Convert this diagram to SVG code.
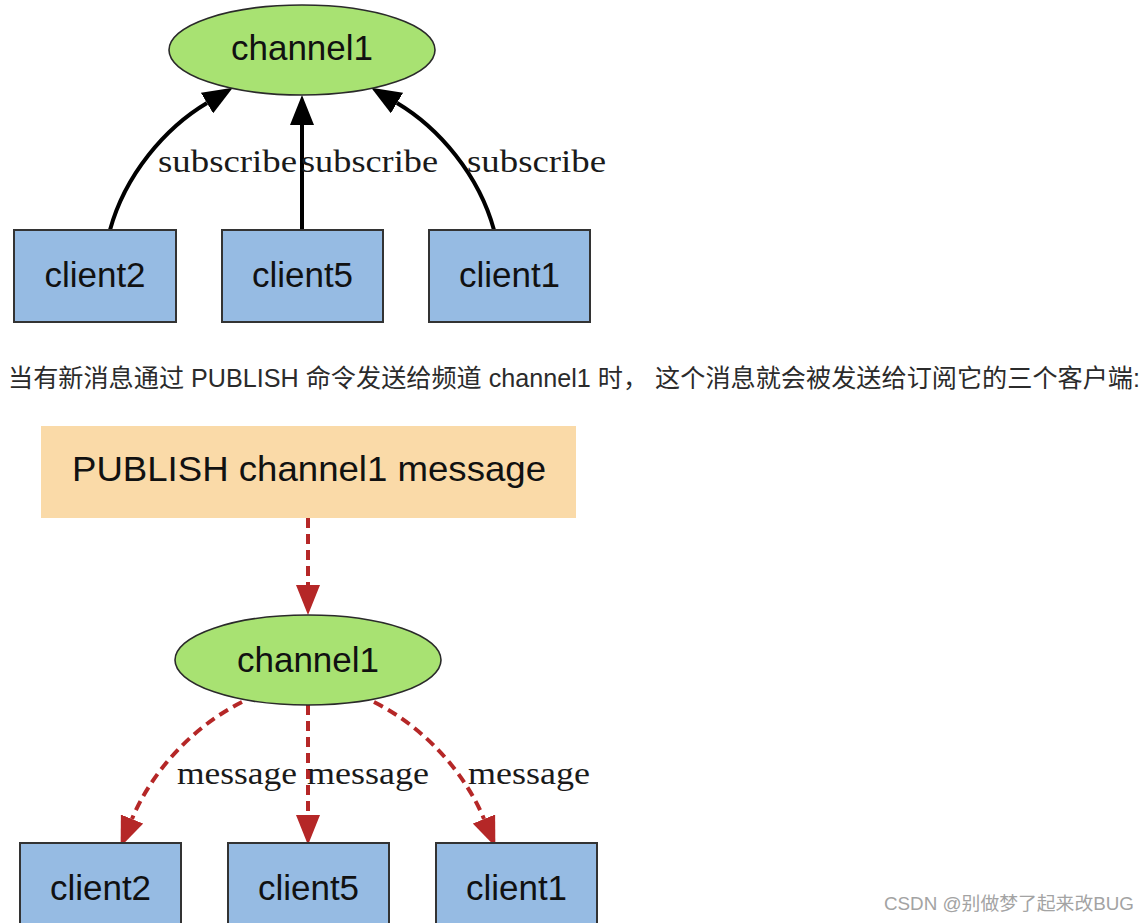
<svg xmlns="http://www.w3.org/2000/svg" width="1148" height="923" viewBox="0 0 1148 923">
<style>
.bg{fill:#ffffff}
.chan{fill:#a8e272;stroke:#2a2a2a;stroke-width:1.6}
.client{fill:#96bbe3;stroke:#333333;stroke-width:2}
.pub{fill:#fadaa8}
.node-t{font-family:"Liberation Sans",Arial,sans-serif;font-size:35px;fill:#111111;text-anchor:middle}
.lbl{font-family:"Liberation Serif","Times New Roman",serif;font-size:32px;fill:#1a1a1a}
.sub{fill:none;stroke:#000000;stroke-width:4}
.msg{fill:none;stroke:#b52727;stroke-width:4;stroke-dasharray:10 6}
.para{font-family:"Liberation Sans","Noto Sans CJK SC",sans-serif;font-size:25px;fill:#2b2b2b}
.wm{font-family:"Liberation Sans","Noto Sans CJK SC",sans-serif;font-size:18px;fill:#a3a3a3}
</style>
<defs>
<marker id="ahBlack" markerUnits="userSpaceOnUse" markerWidth="30" markerHeight="24" refX="0" refY="12" orient="auto" viewBox="0 0 30 24">
<path d="M0,0 L30,12 L0,24 z" fill="#000000"/>
</marker>
<marker id="ahRed" markerUnits="userSpaceOnUse" markerWidth="30" markerHeight="24" refX="0" refY="12" orient="auto" viewBox="0 0 30 24">
<path d="M0,0 L30,12 L0,24 z" fill="#b52727"/>
</marker>
</defs>
<rect class="bg" x="0" y="0" width="1148" height="923"/>

<g id="connectors">
<path class="sub" d="M110,230 C125,175 165,128 207,103" marker-end="url(#ahBlack)"/>
<path class="sub" d="M302,230 L302,125" marker-end="url(#ahBlack)"/>
<path class="sub" d="M494,230 C479,175 439,128 397,103" marker-end="url(#ahBlack)"/>
<text class="lbl" x="158" y="172" textLength="139" lengthAdjust="spacingAndGlyphs">subscribe</text>
<text class="lbl" x="301" y="172" textLength="137" lengthAdjust="spacingAndGlyphs">subscribe</text>
<text class="lbl" x="467" y="172" textLength="139" lengthAdjust="spacingAndGlyphs">subscribe</text>

<path class="msg" d="M308,518 L308,585" marker-end="url(#ahRed)"/>
<path class="msg" d="M242,702 C190,728 150,775 132,819" marker-end="url(#ahRed)"/>
<path class="msg" d="M308,705 L308,815" marker-end="url(#ahRed)"/>
<path class="msg" d="M374,702 C426,728 466,775 484,819" marker-end="url(#ahRed)"/>
<text class="lbl" x="177" y="784" textLength="120" lengthAdjust="spacingAndGlyphs">message</text>
<text class="lbl" x="307" y="784" textLength="122" lengthAdjust="spacingAndGlyphs">message</text>
<text class="lbl" x="468" y="784" textLength="122" lengthAdjust="spacingAndGlyphs">message</text>
</g>

<g id="channel1-top">
<ellipse class="chan" cx="302" cy="50" rx="133" ry="45"/>
<text class="node-t" x="302" y="60">channel1</text>
</g>
<g id="client2-top">
<rect class="client" x="14" y="230" width="162" height="92"/>
<text class="node-t" x="95" y="287">client2</text>
</g>
<g id="client5-top">
<rect class="client" x="222" y="230" width="161" height="92"/>
<text class="node-t" x="302.5" y="287">client5</text>
</g>
<g id="client1-top">
<rect class="client" x="429" y="230" width="161" height="92"/>
<text class="node-t" x="509.5" y="287">client1</text>
</g>

<text class="para" x="8" y="387" textLength="1132" lengthAdjust="spacingAndGlyphs">当有新消息通过 PUBLISH 命令发送给频道 channel1 时， 这个消息就会被发送给订阅它的三个客户端:</text>

<g id="publish">
<rect class="pub" x="41" y="426" width="535" height="92"/>
<text class="node-t" x="309" y="481" textLength="474" lengthAdjust="spacingAndGlyphs">PUBLISH channel1 message</text>
</g>
<g id="channel1-bottom">
<ellipse class="chan" cx="308" cy="660" rx="133" ry="45"/>
<text class="node-t" x="308" y="672">channel1</text>
</g>
<g id="client2-bottom">
<rect class="client" x="20" y="843" width="161" height="100"/>
<text class="node-t" x="100.5" y="900">client2</text>
</g>
<g id="client5-bottom">
<rect class="client" x="228" y="843" width="161" height="100"/>
<text class="node-t" x="308.5" y="900">client5</text>
</g>
<g id="client1-bottom">
<rect class="client" x="436" y="843" width="161" height="100"/>
<text class="node-t" x="516.5" y="900">client1</text>
</g>

<text class="wm" x="884" y="910" textLength="250" lengthAdjust="spacingAndGlyphs">CSDN @别做梦了起来改BUG</text>
</svg>
